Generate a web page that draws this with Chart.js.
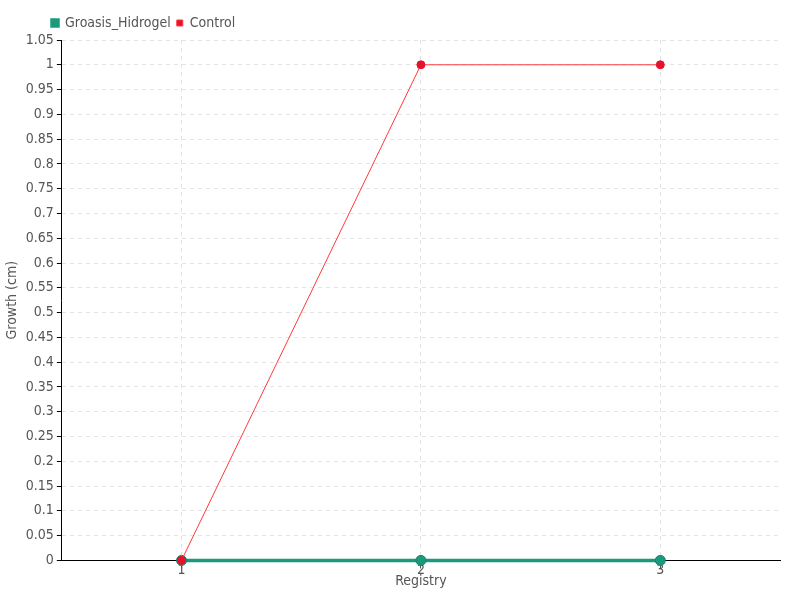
<!DOCTYPE html>
<html>
<head>
<meta charset="utf-8">
<script src="https://cdn.jsdelivr.net/npm/chart.js@4/dist/chart.umd.min.js"></script>
<style>
  body { margin: 0; background: #fff; }
  #wrap { width: 800px; height: 600px; }
</style>
</head>
<body>
<div id="wrap"><canvas id="growthChart" width="800" height="600"></canvas></div>
<script>
// dados
const registros = ['1', '2', '3'];
const groasisHidrogel = [0, 0, 0];
const controle = [0, 1, 1];

const fonte = "'DejaVu Sans Condensed', 'Liberation Sans Narrow', sans-serif";
Chart.defaults.font.family = fonte;
Chart.defaults.color = '#555';

// empurra a legenda um pouco pra direita, como no original
const moveLegenda = {
  id: 'moveLegenda',
  beforeDraw(chart) {
    if (chart.legend && !chart.legend._movido) {
      chart.legend.left += 44;
      chart.legend._movido = true;
    }
  }
};

const ctx = document.getElementById('growthChart').getContext('2d');

const chart = new Chart(ctx, {
  type: 'line',
  data: {
    labels: registros,
    datasets: [
      {
        label: 'Groasis_Hidrogel',
        data: groasisHidrogel,
        borderColor: '#1a9a7c',
        backgroundColor: '#1a9a7c',
        borderWidth: 3.5,
        pointRadius: 5,
        pointBackgroundColor: '#1a9a7c',
        pointBorderColor: '#1f7d66',
        pointBorderWidth: 1,
        clip: false,
        order: 1
      },
      {
        label: 'Control',
        data: controle,
        borderColor: '#ff3a3a',
        backgroundColor: '#e8112d',
        borderWidth: 1,
        pointRadius: 4,
        pointBackgroundColor: '#e8112d',
        pointBorderColor: '#e8112d',
        clip: false,
        order: 0
      }
    ]
  },
  options: {
    responsive: false,
    animation: false,
    layout: { padding: { left: 2, right: 20, top: 10, bottom: 10 } },
    plugins: {
      legend: {
        align: 'start',
        labels: {
          boxWidth: 6,
          boxHeight: 6,
          padding: 6,
          font: { size: 14 },
          sort: (a, b) => a.datasetIndex - b.datasetIndex
        }
      },
      tooltip: { enabled: false }
    },
    scales: {
      x: {
        offset: true,
        title: { display: true, text: 'Registry', font: { size: 14 }, padding: { top: 0, bottom: 0 } },
        grid: { color: '#e4e4e4', tickColor: '#555', tickLength: 8 },
        border: { color: '#000', dash: [4, 4] },
        ticks: { padding: -6, font: { size: 14 } }
      },
      y: {
        min: 0,
        max: 1.05,
        title: { display: true, text: 'Growth (cm)', font: { size: 14 }, padding: 2 },
        grid: { color: '#e4e4e4', tickColor: '#000', tickLength: 5 },
        border: { color: '#000', dash: [4, 4] },
        ticks: {
          stepSize: 0.05,
          autoSkip: false,
          padding: 3,
          font: { size: 14 },
          callback: v => String(Math.round(v * 100) / 100)
        }
      }
    }
  },
  plugins: [moveLegenda]
});
</script>
</body>
</html>
